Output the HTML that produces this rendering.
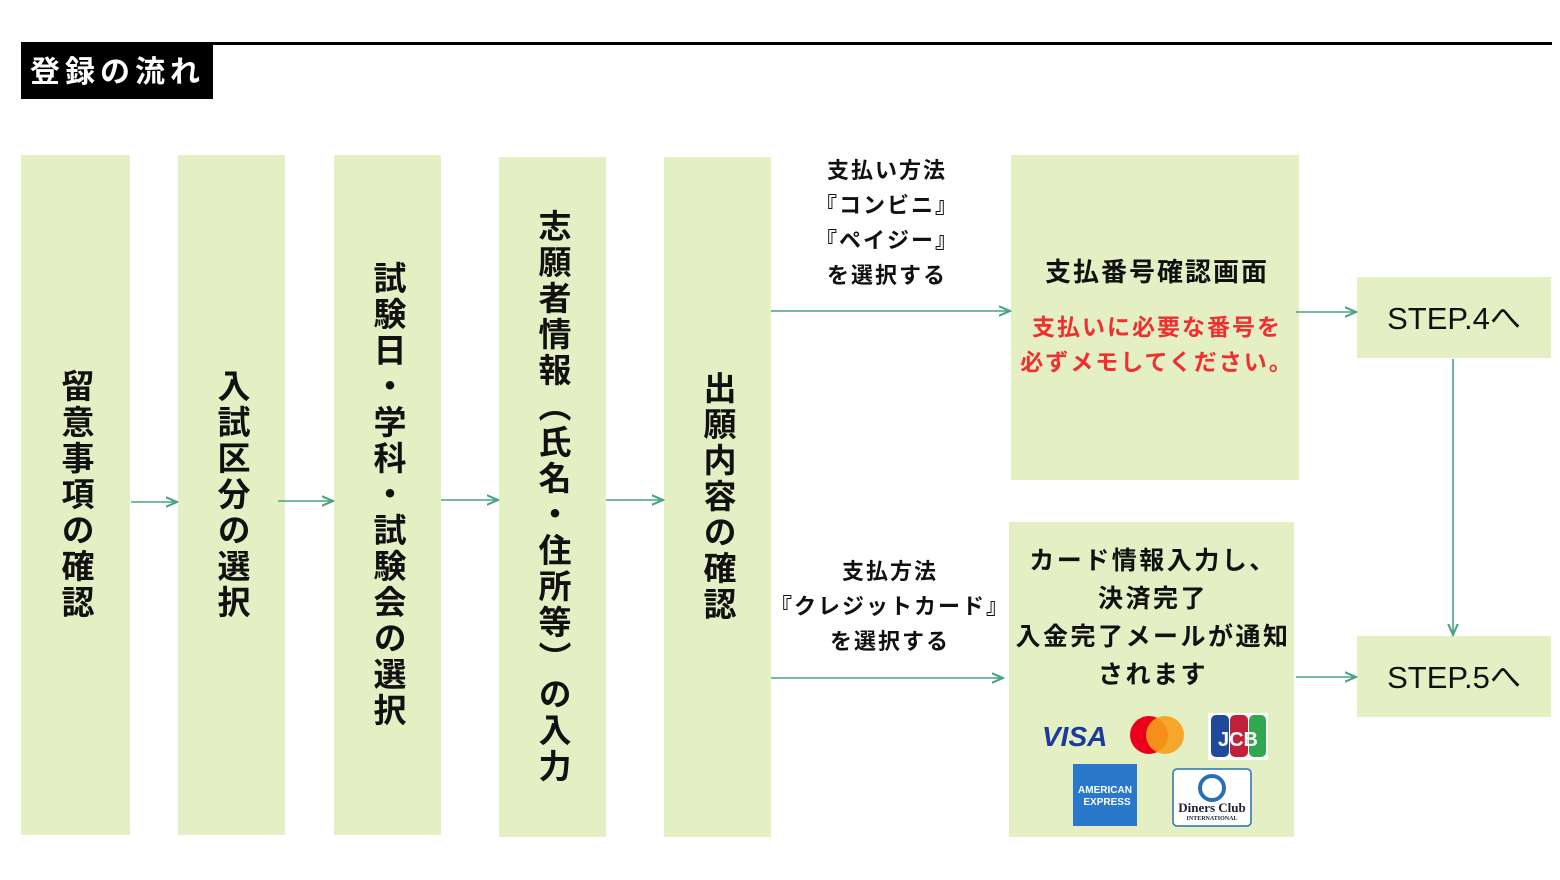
<!DOCTYPE html>
<html><head><meta charset="utf-8"><style>
body{margin:0;width:1560px;height:880px;background:#fff;position:relative;overflow:hidden;font-family:"Liberation Sans","Noto Sans CJK JP",sans-serif;font-weight:bold;color:#111}
div{position:absolute;box-sizing:border-box}
.g{background:#e5efc4}
.v{writing-mode:vertical-rl;text-orientation:upright;font-size:33px;display:flex;align-items:center;justify-content:center;letter-spacing:3px;line-height:1}
.c{text-align:center;white-space:nowrap}
</style></head><body>
<div style="left:21px;top:42px;width:1531px;height:3px;background:#000"></div>
<div style="left:21px;top:45px;width:192px;height:54px;background:#000;color:#fff;font-size:30px;line-height:56px;padding-left:9px;letter-spacing:5px">登録の流れ</div>

<div class="g v" style="left:21px;top:155px;width:109px;height:680px">留意事項の確認</div>
<div class="g v" style="left:178px;top:155px;width:107px;height:680px">入試区分の選択</div>
<div class="g v" style="left:334px;top:155px;width:107px;height:680px">試験日・学科・試験会の選択</div>
<div class="g v" style="left:499px;top:157px;width:107px;height:680px">志願者情報（氏名・住所等）の入力</div>
<div class="g v" style="left:664px;top:157px;width:107px;height:680px">出願内容の確認</div>

<div class="g" style="left:1011px;top:155px;width:288px;height:325px"></div>
<div class="c" style="left:1011px;top:252px;width:292px;font-size:26px;letter-spacing:2px">支払番号確認画面</div>
<div class="c" style="left:1005px;top:310px;width:304px;font-size:23px;color:#f03030;line-height:35px;letter-spacing:2px">支払いに必要な番号を<br>必ずメモしてください。</div>

<div class="g" style="left:1009px;top:522px;width:285px;height:315px"></div>
<div class="c" style="left:1003px;top:542px;width:300px;font-size:25px;line-height:38px;letter-spacing:2.5px">カード情報入力し、<br>決済完了<br>入金完了メールが通知<br>されます</div>

<div class="g" style="left:1357px;top:277px;width:194px;height:81px;font-size:31px;line-height:83px;text-align:center;font-weight:normal">STEP.4へ</div>
<div class="g" style="left:1357px;top:636px;width:194px;height:81px;font-size:31px;line-height:83px;text-align:center;font-weight:normal">STEP.5へ</div>

<div class="c" style="left:787px;top:153px;width:200px;font-size:22px;line-height:35px;letter-spacing:2px">支払い方法<br>『コンビニ』<br>『ペイジー』<br>を選択する</div>
<div class="c" style="left:770px;top:554px;width:240px;font-size:22px;line-height:35px;letter-spacing:2px">支払方法<br>『クレジットカード』<br>を選択する</div>

<svg style="position:absolute;left:0;top:0" width="1560" height="880">
<defs><marker id="a" markerWidth="8" markerHeight="8" refX="7" refY="4" orient="auto"><path d="M0,1 L7,4 L0,7" fill="none" stroke="#4aa381" stroke-width="1.3"/></marker></defs>
<g stroke="#4aa381" stroke-width="1.6" fill="none" marker-end="url(#a)">
<line x1="131" y1="502" x2="177" y2="502"/>
<line x1="278" y1="501" x2="333" y2="501"/>
<line x1="441" y1="500" x2="498" y2="500"/>
<line x1="606" y1="500" x2="663" y2="500"/>
<line x1="771" y1="311" x2="1010" y2="311"/>
<line x1="771" y1="678" x2="1003" y2="678"/>
<line x1="1296" y1="312" x2="1356" y2="312"/>
<line x1="1296" y1="677" x2="1356" y2="677"/>
<line x1="1453" y1="359" x2="1453" y2="635"/>
</g>
<text x="1042" y="746" font-family="Liberation Sans" font-style="italic" font-weight="bold" font-size="28" fill="#1a3a9c">VISA</text>
<circle cx="1149" cy="735" r="19" fill="#eb001b"/>
<circle cx="1165" cy="735" r="19" fill="#f79e1b" opacity="0.9"/>
<rect x="1208" y="713" width="60" height="47" fill="#fff"/>
<rect x="1211" y="715" width="18" height="42" rx="5" fill="#1f4a9c"/>
<rect x="1230" y="715" width="18" height="42" rx="5" fill="#c0223b"/>
<rect x="1249" y="715" width="17" height="42" rx="5" fill="#2fa84f"/>
<text x="1238" y="746" text-anchor="middle" font-family="Liberation Sans" font-weight="bold" font-size="20" fill="#fff">JCB</text>
<rect x="1073" y="764" width="64" height="62" fill="#2a78c9"/>
<text x="1105" y="793" text-anchor="middle" font-family="Liberation Sans" font-size="10" fill="#fff">AMERICAN</text>
<text x="1107" y="805" text-anchor="middle" font-family="Liberation Sans" font-size="10" fill="#fff">EXPRESS</text>
<rect x="1173" y="769" width="78" height="57" rx="4" fill="#fff" stroke="#2a6fb5" stroke-width="1.5"/>
<circle cx="1212" cy="788" r="12" fill="none" stroke="#2a6fb5" stroke-width="4"/>
<text x="1212" y="812" text-anchor="middle" font-family="Liberation Serif" font-size="13" fill="#223">Diners Club</text>
<text x="1212" y="820" text-anchor="middle" font-family="Liberation Serif" font-size="6" fill="#223">INTERNATIONAL</text>
</svg>
</body></html>
